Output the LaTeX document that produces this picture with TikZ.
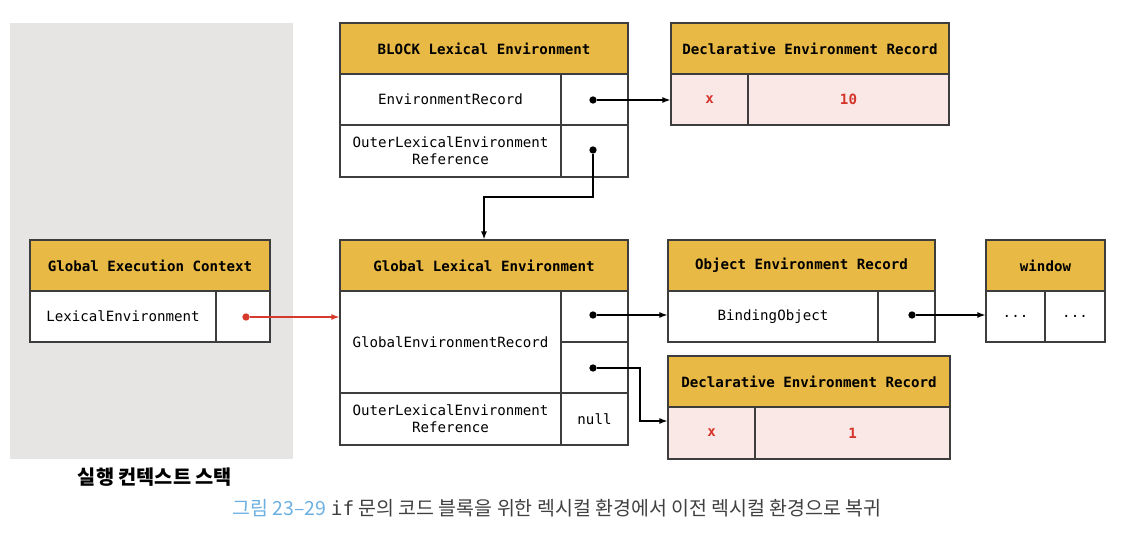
\documentclass[tikz,border=0pt]{standalone}
\usepackage{fontspec}
\setmonofont{DejaVu Sans Mono}
\newfontfamily\kr{Noto Sans CJK KR}
\usetikzlibrary{arrows.meta}
\definecolor{hdrgold}{HTML}{E9B945}
\definecolor{stackgray}{HTML}{E6E5E3}
\definecolor{pinkbg}{HTML}{F9E8E6}
\definecolor{redtxt}{HTML}{D5342B}
\definecolor{redarrow}{HTML}{D63A2C}
\definecolor{lineg}{HTML}{3D3D3D}
\definecolor{capblue}{HTML}{6CB0E2}
\definecolor{capgray}{HTML}{404040}

\begin{document}
\begin{tikzpicture}[x=0.75pt, y=-0.75pt,
  cw/.style={minimum width=0.75pt*#1},
  ch/.style={minimum height=0.75pt*#1},
  cell/.style={draw=lineg, line width=0.9pt, fill=white, inner sep=0pt, align=center,
    font=\ttfamily\fontsize{10.6}{13}\selectfont},
  hdr/.style={cell, fill=hdrgold, ch=51, font=\ttfamily\bfseries\fontsize{10.6}{12}\selectfont},
  pink/.style={cell, fill=pinkbg, text=redtxt, ch=51, font=\ttfamily\bfseries\fontsize{10.6}{12}\selectfont},
  dot/.style={circle, fill=black, inner sep=0pt, minimum size=5.5pt},
  ptr/.style={-{Latex[length=6pt,width=4.5pt]}, line width=1pt}]
\useasboundingbox (0,0) rectangle (1140,534);

% execution context stack
\fill[stackgray] (10,23) rectangle (293,459);
\node[hdr, cw=240] (gec) at (150,265.5) {Global Execution Context};
\node[cell, cw=186, ch=51] (gecLE) at (123,316.5) {LexicalEnvironment};
\node[cell, cw=54, ch=51] (gecP) at (243,316.5) {};
\node[dot, fill=redarrow] (gecdot) at (246,317) {};
\node[font=\kr\bfseries\fontsize{14.8}{17}\selectfont] (stack) at (155,477) {실행 컨텍스트 스택};

% block lexical environment
\node[hdr, cw=288] (ble) at (484,48.5) {BLOCK Lexical Environment};
\node[cell, cw=221, ch=51] (bleR) at (450.5,99.5) {EnvironmentRecord};
\node[cell, cw=67, ch=51] (bleRP) at (594.5,99.5) {};
\node[cell, cw=221, ch=52] (bleO) at (450.5,151) {OuterLexicalEnvironment\\Reference};
\node[cell, cw=67, ch=52] (bleOP) at (594.5,151) {};
\node[dot] (bdot1) at (593,100) {};
\node[dot] (bdot2) at (593,150) {};

\node[hdr, cw=278] (dtop) at (810,48.5) {Declarative Environment Record};
\node[pink, cw=77] (dtopx) at (709.5,99.5) {x};
\node[pink, cw=201] (dtopv) at (848.5,99.5) {10};

% global lexical environment
\node[hdr, cw=288] (gle) at (484,265.5) {Global Lexical Environment};
\node[cell, cw=221, ch=102] (gleR) at (450.5,342) {GlobalEnvironmentRecord};
\node[cell, cw=67, ch=51] (gleRP1) at (594.5,316.5) {};
\node[cell, cw=67, ch=51] (gleRP2) at (594.5,367.5) {};
\node[cell, cw=221, ch=52] (gleO) at (450.5,419) {OuterLexicalEnvironment\\Reference};
\node[cell, cw=67, ch=52] (gleOP) at (594.5,419) {null};
\node[dot] (gdot1) at (593,315) {};
\node[dot] (gdot2) at (593,368) {};

\node[hdr, cw=267] (oer) at (801.5,265.5) {Object Environment Record};
\node[cell, cw=210, ch=51] (oerB) at (773,316.5) {BindingObject};
\node[cell, cw=57, ch=51] (oerP) at (906.5,316.5) {};
\node[dot] (odot) at (912,315) {};

\node[hdr, cw=119] (win) at (1045.5,265.5) {window};
\node[cell, cw=59, ch=51] (win1) at (1015.5,316.5) {...};
\node[cell, cw=60, ch=51] (win2) at (1075,316.5) {...};

\node[hdr, cw=282] (dbot) at (809,381.5) {Declarative Environment Record};
\node[pink, cw=87, ch=52] (dbotx) at (711.5,433) {x};
\node[pink, cw=195, ch=52] (dbotv) at (852.5,433) {1};

% references
\draw[ptr] (bdot1) -- (bdot1 -| dtopx.west);
\draw[ptr] (bdot2) -- ++(0,47) -| (gle.north);
\draw[ptr, color=redarrow] (gecdot) -- (gecdot -| gleR.west);
\draw[ptr] (gdot1) -- (gdot1 -| oerB.west);
\draw[ptr] (gdot2) -- ++(47,0) |- ([yshift=9pt]dbotx.west);
\draw[ptr] (odot) -- (odot -| win1.west);

\node[font=\kr\fontsize{14.6}{17}\selectfont, text=capgray] (cap) at (557,508)
  {\textcolor{capblue}{그림 23–29} {\ttfamily if} 문의 코드 블록을 위한 렉시컬 환경에서 이전 렉시컬 환경으로 복귀};
\end{tikzpicture}
\end{document}
